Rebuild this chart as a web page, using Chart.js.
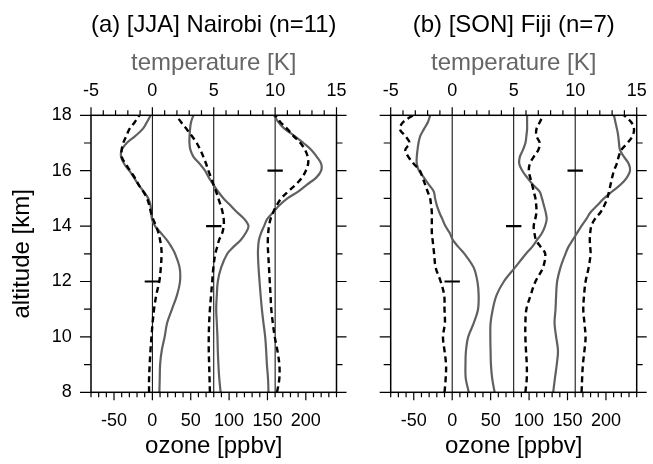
<!DOCTYPE html>
<html>
<head>
<title>Ozone and temperature profiles</title>
<script src="https://cdn.jsdelivr.net/npm/chart.js"></script>
<style>
  body { margin: 0; background: #fff; }
  #wrap { position: relative; width: 653px; height: 464px; }
  canvas { position: absolute; top: 0; }
</style>
</head>
<body>
<div id="wrap">
  <canvas id="panelA" width="363" height="464" style="left:0"></canvas>
  <canvas id="panelB" width="290" height="464" style="left:363px"></canvas>
</div>
<script>
// altitude grid [km] shared by all profiles
const altitude = [8, 8.5, 9, 9.5, 10, 10.5, 11, 11.5, 12, 12.5,
  13, 13.25, 13.5, 13.75, 14, 14.25, 14.5, 14.75, 15, 15.25, 15.5, 15.75,
  16, 16.25, 16.5, 16.75, 17, 17.25, 17.5, 17.75, 18];

// (a) Nairobi - temperature [K] (gray), offsets 0 / 5 / 10 K
const nairobiTemp0  = [0.57, 0.6, 0.63, 0.76, 1.0, 1.2, 1.6, 2.0, 2.25, 2.22, 1.85, 1.55, 1.17, 0.7, 0.22, -0.03, -0.1, -0.15, -0.33, -0.72, -1.14, -1.5, -1.88, -2.3, -2.55, -2.5, -2.09, -1.4, -0.8, -0.45, -0.14];
const nairobiTemp5  = [5.56, 5.45, 5.38, 5.33, 5.3, 5.25, 5.2, 5.25, 5.33, 5.6, 6.1, 6.6, 7.2, 7.6, 7.83, 7.5, 6.9, 6.35, 5.8, 5.35, 4.97, 4.6, 4.29, 3.85, 3.35, 3.1, 3.02, 3.03, 3.07, 3.15, 3.34];
const nairobiTemp10 = [9.46, 9.42, 9.33, 9.27, 9.19, 9.05, 8.92, 8.82, 8.73, 8.65, 8.6, 8.62, 8.68, 8.85, 9.1, 9.35, 9.85, 10.35, 11.0, 11.9, 12.6, 13.35, 13.75, 13.75, 13.4, 12.95, 12.3, 11.6, 10.8, 10.27, 9.92];
// (a) Nairobi - ozone [ppbv] (dashed), offsets 0 / 80 / 160 ppbv
const nairobiO3_0   = [-4.3, -4.3, -3.5, -2.5, -1.2, 0.3, 2.2, 5, 9, 11, 12, 11.5, 10, 8, 4.8, 1, -2, -4, -7, -12, -18, -23, -29, -35, -40, -40, -38, -34, -30, -23, -17];
const nairobiO3_80  = [75, 74.5, 74, 73.5, 73.5, 74, 75, 76.5, 78, 79.5, 82, 84.5, 87, 91, 93, 93, 91.5, 89, 86, 83, 79.6, 76.5, 73, 70, 66.5, 62.5, 57.8, 51.5, 44.8, 37.5, 30.9];
const nairobiO3_160 = [162.5, 165.5, 165.5, 163, 159.5, 157, 155, 154, 153, 152, 151, 150.5, 150.5, 151, 152, 154, 157.5, 162, 168, 177, 187, 195, 200, 203, 202.5, 199, 193, 184, 176, 167, 160];

// (b) Fiji - temperature [K]
const fijiTemp0  = [1.35, 1.1, 1.08, 1.12, 1.3, 1.75, 2.1, 2.15, 2.05, 1.75, 1.0, 0.5, 0.05, -0.2, -0.55, -0.8, -1.05, -1.25, -1.39, -1.5, -1.9, -2.3, -2.7, -2.88, -2.88, -2.82, -2.74, -2.6, -2.3, -1.98, -1.79];
const fijiTemp5  = [3.45, 3.25, 3.15, 3.12, 3.1, 3.12, 3.3, 3.6, 4.2, 5.1, 6.0, 6.5, 6.9, 7.3, 7.55, 7.68, 7.6, 7.45, 7.3, 7.1, 6.55, 6.1, 5.7, 5.45, 5.5, 5.75, 5.95, 6.03, 6.09, 6.09, 6.09];
const fijiTemp10 = [8.21, 8.35, 8.5, 8.6, 8.45, 8.32, 8.4, 8.45, 8.53, 8.8, 9.21, 9.45, 9.8, 10.15, 10.5, 10.9, 11.25, 11.8, 12.34, 13.0, 13.7, 14.2, 14.46, 14.35, 13.97, 13.64, 13.56, 13.5, 13.4, 13.27, 13.15];
// (b) Fiji - ozone [ppbv]
const fijiO3_0   = [-10, -8.5, -8, -10, -12, -9.5, -10, -10.4, -15, -21.5, -23.5, -24.5, -25.5, -26.5, -26.5, -26.5, -26.5, -27.5, -28.7, -32, -35.2, -38.5, -42, -50, -57, -61, -55.5, -61, -68, -64, -51];
const fijiO3_80  = [95.2, 97, 97, 96, 95.2, 95.2, 96.5, 102, 108.3, 118, 121, 115, 109, 107, 106, 108, 109.6, 109.3, 108.3, 106, 103.9, 101.5, 99.6, 101, 106, 112, 113.9, 109.6, 109.6, 113.9, 118.3];
const fijiO3_160 = [168.3, 169, 170, 172, 173.5, 172, 170.5, 171.5, 173.5, 177.5, 180, 179.5, 179, 179.5, 181, 185.5, 193, 198, 201.7, 204, 206, 208, 210.4, 214, 216.5, 220, 228, 234.5, 236.5, 233, 223.5];

// reference lines and +/-10 ppbv scale bars
const refOffsets = [0, 80, 160];
const markAltitudes = [12, 14, 16];
const markHalfWidth = 10;

// axes
const ozoneMin = -80, ozoneMax = 240;
const tempMin = -5, tempMax = 15;
const altMin = 8, altMax = 18;
const ozoneTicks = [-50, 0, 50, 100, 150, 200];
const tempTicks = [-5, 0, 5, 10, 15];
const altTicks = [8, 10, 12, 14, 16, 18];

const GRAY = '#606060';
Chart.defaults.font.family = "'Liberation Sans', Arial, Helvetica, sans-serif";
Chart.defaults.color = '#000';

function profile(values) {
  return altitude.map((z, i) => ({ x: values[i], y: z }));
}

// frame plus minor/major tick marks, drawn through the scales
const frameTicks = {
  id: 'frameTicks',
  afterDraw(chart) {
    const { ctx, chartArea: a } = chart;
    const sx = chart.scales.x, st = chart.scales.xT, sy = chart.scales.y;
    ctx.save();
    ctx.strokeStyle = '#000';
    ctx.lineWidth = 1.2;
    ctx.beginPath();
    for (let v = ozoneMin; v <= ozoneMax; v += 10) {
      const px = sx.getPixelForValue(v);
      ctx.moveTo(px, a.bottom);
      ctx.lineTo(px, a.bottom + (v % 50 === 0 ? 8 : 5));
    }
    for (let v = tempMin; v <= tempMax; v += 1) {
      const px = st.getPixelForValue(v);
      ctx.moveTo(px, a.top);
      ctx.lineTo(px, a.top - (v % 5 === 0 ? 8 : 5));
    }
    for (let v = altMin; v <= altMax; v += 1) {
      const py = sy.getPixelForValue(v);
      const major = v % 2 === 0;
      ctx.moveTo(a.left - (major ? 11 : 7), py);
      ctx.lineTo(a.left, py);
      ctx.moveTo(a.right, py);
      ctx.lineTo(a.right + (major ? 10 : 6), py);
    }
    ctx.stroke();
    ctx.lineWidth = 1.5;
    ctx.strokeRect(a.left, a.top, a.right - a.left, a.bottom - a.top);
    ctx.restore();
  }
};

// keep the plot edges where the layout padding puts them
function noEdgePadding(s) {
  s.paddingLeft = 0;
  s.paddingRight = 0;
}

function makePanel(id, title, temps, ozones, showAlt, padLeft, padRight) {
  const datasets = [];
  markAltitudes.forEach((z, i) => {
    datasets.push({
      data: [{ x: refOffsets[i] - markHalfWidth, y: z }, { x: refOffsets[i] + markHalfWidth, y: z }],
      xAxisID: 'x', borderColor: '#000', borderWidth: 2.2, tension: 0
    });
  });
  ozones.forEach(vals => {
    datasets.push({
      data: profile(vals), xAxisID: 'x', borderColor: '#000',
      borderWidth: 2.4, borderDash: [6, 4], tension: 0.35
    });
  });
  temps.forEach(vals => {
    datasets.push({
      data: profile(vals), xAxisID: 'xT', borderColor: GRAY,
      borderWidth: 2.2, tension: 0.35
    });
  });
  refOffsets.forEach(o => {
    datasets.push({
      data: [{ x: o, y: altMin }, { x: o, y: altMax }],
      xAxisID: 'x', borderColor: '#000', borderWidth: 1, tension: 0
    });
  });
  datasets.forEach(d => { d.showLine = true; d.pointRadius = 0; d.fill = false; });

  return new Chart(document.getElementById(id), {
    type: 'scatter',
    data: { datasets: datasets },
    options: {
      responsive: false,
      animation: false,
      events: [],
      layout: { padding: { left: padLeft, right: padRight, top: 0, bottom: 0 } },
      plugins: {
        legend: { display: false },
        tooltip: { enabled: false },
        title: {
          display: true, text: title, fullSize: false,
          font: { size: 24, weight: 'normal' }, color: '#000',
          padding: { top: 10.6, bottom: 0 }
        }
      },
      scales: {
        x: {
          type: 'linear', axis: 'x', position: 'bottom', min: ozoneMin, max: ozoneMax,
          afterBuildTicks: s => { s.ticks = ozoneTicks.map(v => ({ value: v })); },
          afterFit: s => { s.height = 71.7; noEdgePadding(s); },
          grid: { display: false, drawTicks: false }, border: { display: false },
          ticks: { font: { size: 18 }, color: '#000', padding: 18, maxRotation: 0, autoSkip: false },
          title: { display: true, text: 'ozone [ppbv]', font: { size: 24 }, color: '#000', padding: { top: 0, bottom: 3.6 } }
        },
        xT: {
          type: 'linear', axis: 'x', position: 'top', min: tempMin, max: tempMax,
          afterBuildTicks: s => { s.ticks = tempTicks.map(v => ({ value: v })); },
          afterFit: s => { s.height = 75.9; noEdgePadding(s); },
          grid: { display: false, drawTicks: false }, border: { display: false },
          ticks: { font: { size: 18 }, color: '#000', padding: 13.5, maxRotation: 0, autoSkip: false },
          title: { display: true, text: 'temperature [K]', font: { size: 24 }, color: '#666', padding: { top: 9.2, bottom: 0 } }
        },
        y: {
          type: 'linear', position: 'left', min: altMin, max: altMax, display: showAlt,
          afterBuildTicks: s => { s.ticks = altTicks.map(v => ({ value: v })); },
          afterFit: s => { s.width = showAlt ? 91 : 0; },
          grid: { display: false, drawTicks: false }, border: { display: false },
          ticks: { font: { size: 18 }, color: '#000', padding: 19.3 },
          title: { display: true, text: 'altitude [km]', font: { size: 24 }, color: '#000', padding: { top: 7.6, bottom: 0 } }
        }
      }
    },
    plugins: [frameTicks]
  });
}

makePanel('panelA', '(a) [JJA] Nairobi (n=11)',
  [nairobiTemp0, nairobiTemp5, nairobiTemp10], [nairobiO3_0, nairobiO3_80, nairobiO3_160], true, 0, 26.5);
makePanel('panelB', '(b) [SON] Fiji (n=7)',
  [fijiTemp0, fijiTemp5, fijiTemp10], [fijiO3_0, fijiO3_80, fijiO3_160], false, 27.7, 16.3);
</script>
</body>
</html>
